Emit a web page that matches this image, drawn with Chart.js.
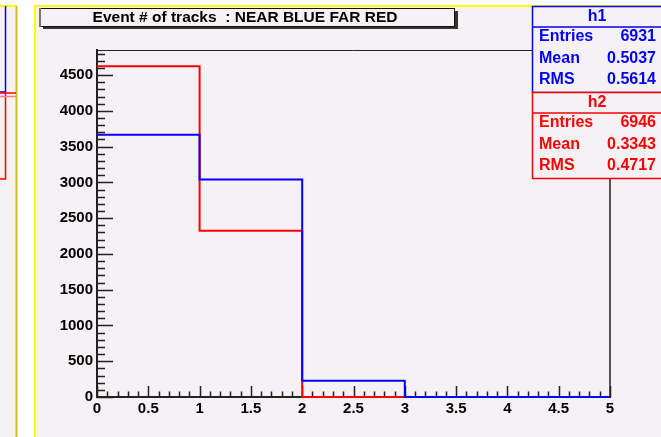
<!DOCTYPE html>
<html>
<head>
<meta charset="utf-8">
<script src="https://cdn.jsdelivr.net/npm/chart.js@4.4.1/dist/chart.umd.min.js"></script>
<style>
  html, body { margin: 0; padding: 0; background: #ffffff; }
  #wrap { width: 661px; height: 437px; }
</style>
</head>
<body>
<div id="wrap"><canvas id="tracks" width="661" height="437"></canvas></div>
<script>
// bin edges and per-bin counts (h1 = NEAR, h2 = FAR)
const binEdges = [0, 1, 2, 3, 4, 5];
const nearCounts = [3666, 3039, 226, 0, 0];
const farCounts = [4624, 2322, 0, 0, 0];
const yTicks = [0, 500, 1000, 1500, 2000, 2500, 3000, 3500, 4000, 4500];
const xTicks = [0, 0.5, 1, 1.5, 2, 2.5, 3, 3.5, 4, 4.5, 5];
const yMax = 4850;

// stats box contents
const nearStats = [['Entries', '6931'], ['Mean', '0.5037'], ['RMS', '0.5614']];
const farStats = [['Entries', '6946'], ['Mean', '0.3343'], ['RMS', '0.4717']];

const padBg = '#f5f1f5';
const statFont = 'bold 16px "Liberation Sans"';

// histogram outline: two corner points per bin
function histPoints(counts) {
  const pts = [];
  counts.forEach((c, i) => {
    pts.push({ x: binEdges[i], y: c });
    pts.push({ x: binEdges[i + 1], y: c });
  });
  return pts;
}

function statBox(ctx, x, top, name, rows, color) {
  ctx.save();
  ctx.fillStyle = padBg;
  ctx.fillRect(x, top, 661 - x + 2, 86);
  ctx.strokeStyle = color;
  ctx.lineWidth = 1.5;
  ctx.strokeRect(x + 0.5, top + 0.5, 661 - x + 4, 86);
  ctx.beginPath();
  ctx.moveTo(x, top + 21);
  ctx.lineTo(661, top + 21);
  ctx.stroke();
  ctx.fillStyle = color;
  ctx.font = statFont;
  ctx.textBaseline = 'middle';
  ctx.textAlign = 'center';
  ctx.fillText(name, 597, top + 10.5);
  rows.forEach((r, i) => {
    const y = top + 31 + i * 21.5;
    ctx.textAlign = 'left';
    ctx.fillText(r[0], 539, y);
    ctx.textAlign = 'right';
    ctx.fillText(r[1], 656, y);
  });
  ctx.restore();
}

const rootStyle = {
  id: 'rootStyle',
  beforeDraw(chart) {
    const ctx = chart.ctx;
    ctx.save();
    ctx.fillStyle = '#ffffff';
    ctx.fillRect(0, 0, 661, 437);
    // neighbouring pad on the left
    ctx.fillStyle = padBg;
    ctx.fillRect(0, 6, 16, 431);
    ctx.fillRect(34, 6, 627, 431);
    ctx.strokeStyle = '#ffff00';
    ctx.lineWidth = 2;
    ctx.beginPath();
    ctx.moveTo(0, 6); ctx.lineTo(17, 6);
    ctx.moveTo(35, 437); ctx.lineTo(35, 6); ctx.lineTo(661, 6);
    ctx.stroke();
    ctx.strokeStyle = '#c8c020';
    ctx.beginPath();
    ctx.moveTo(16.5, 6); ctx.lineTo(16.5, 437);
    ctx.stroke();
    ctx.restore();
  },
  beforeDatasetsDraw(chart) {
    const ctx = chart.ctx;
    const a = chart.chartArea;
    const xs = chart.scales.x, ys = chart.scales.y;
    ctx.save();
    // frame top and right
    ctx.strokeStyle = '#222';
    ctx.lineWidth = 1;
    ctx.beginPath();
    ctx.moveTo(a.left, a.top + 0.5); ctx.lineTo(a.right, a.top + 0.5);
    ctx.stroke();
    ctx.strokeStyle = '#555';
    ctx.lineWidth = 2;
    ctx.beginPath();
    ctx.moveTo(a.right, a.top); ctx.lineTo(a.right, a.bottom);
    ctx.stroke();
    // inward ticks
    ctx.strokeStyle = '#222';
    ctx.lineWidth = 1.5;
    ctx.beginPath();
    for (let v = 0; v <= yMax; v += 100) {
      const y = Math.round(ys.getPixelForValue(v)) + 0.5;
      const len = v % 500 === 0 ? 16 : 8;
      ctx.moveTo(a.left, y); ctx.lineTo(a.left + len, y);
    }
    for (let i = 0; i <= 50; i++) {
      const x = Math.round(xs.getPixelForValue(i / 10)) + 0.5;
      const len = i % 5 === 0 ? 11 : 5.5;
      ctx.moveTo(x, a.bottom); ctx.lineTo(x, a.bottom - len);
    }
    ctx.stroke();
    ctx.restore();
  },
  afterDraw(chart) {
    const ctx = chart.ctx;
    ctx.save();
    // title pave with shadow
    ctx.fillStyle = '#333';
    ctx.fillRect(43, 11, 415, 18);
    ctx.fillStyle = padBg;
    ctx.fillRect(40, 8, 415, 18);
    ctx.strokeStyle = '#111';
    ctx.lineWidth = 1;
    ctx.strokeRect(40.5, 8.5, 414, 18);
    ctx.strokeStyle = '#777';
    ctx.lineWidth = 2;
    ctx.beginPath();
    ctx.moveTo(40, 8); ctx.lineTo(40, 27);
    ctx.stroke();
    ctx.fillStyle = '#000';
    ctx.font = 'bold 15.5px "Liberation Sans"';
    ctx.textAlign = 'center';
    ctx.textBaseline = 'middle';
    ctx.fillText('Event # of tracks  : NEAR BLUE FAR RED', 245, 17.5);
    // leftover stats boxes of the left pad
    ctx.lineWidth = 1.5;
    ctx.strokeStyle = '#0000ff';
    ctx.beginPath();
    ctx.moveTo(5.5, 6); ctx.lineTo(5.5, 92); ctx.lineTo(0, 92);
    ctx.stroke();
    ctx.strokeStyle = '#ff0000';
    ctx.beginPath();
    ctx.moveTo(0, 93); ctx.lineTo(16, 93);
    ctx.moveTo(5.5, 93); ctx.lineTo(5.5, 179); ctx.lineTo(0, 179);
    ctx.stroke();
    ctx.strokeStyle = '#ff8080';
    ctx.beginPath();
    ctx.moveTo(0, 96.5); ctx.lineTo(16, 96.5);
    ctx.stroke();
    ctx.restore();
    statBox(ctx, 532, 6, 'h1', nearStats, '#0000ff');
    statBox(ctx, 532, 92, 'h2', farStats, '#ff0000');
  }
};

const tickFont = { family: 'Liberation Sans', size: 15, weight: 'bold' };

new Chart(document.getElementById('tracks'), {
  type: 'line',
  data: {
    datasets: [{
      label: 'h1',
      data: histPoints(nearCounts),
      borderColor: '#0000ff',
      borderWidth: 2,
      pointRadius: 0,
      fill: false,
      clip: false
    }, {
      label: 'h2',
      data: histPoints(farCounts),
      borderColor: '#ff0000',
      borderWidth: 2,
      pointRadius: 0,
      fill: false,
      clip: false
    }]
  },
  options: {
    responsive: false,
    animation: false,
    layout: { padding: { top: 50, right: 51, left: 0, bottom: 0 } },
    plugins: { legend: { display: false }, tooltip: { enabled: false } },
    scales: {
      x: {
        type: 'linear',
        min: 0,
        max: 5,
        afterBuildTicks: s => { s.ticks = xTicks.map(v => ({ value: v })); },
        afterFit: s => { s.height = 40; },
        grid: { display: false, drawTicks: false },
        border: { display: true, color: '#222', width: 2 },
        ticks: { color: '#000', font: tickFont, padding: 3, maxRotation: 0, autoSkip: false, callback: v => String(v) }
      },
      y: {
        type: 'linear',
        min: 0,
        max: yMax,
        afterBuildTicks: s => { s.ticks = yTicks.map(v => ({ value: v })); },
        afterFit: s => { s.width = 97; },
        grid: { display: false, drawTicks: false },
        border: { display: true, color: '#222', width: 2 },
        ticks: { color: '#000', font: tickFont, padding: 4, autoSkip: false, callback: v => String(v) }
      }
    }
  },
  plugins: [rootStyle]
});
</script>
</body>
</html>
